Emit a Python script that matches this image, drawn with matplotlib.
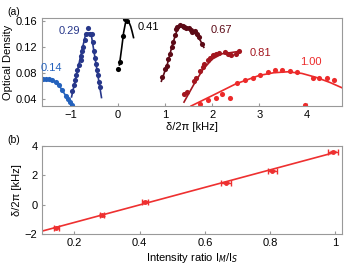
import numpy as np
import matplotlib
matplotlib.use("Agg")
import matplotlib.pyplot as plt

plt.rcParams.update({"font.family": ["Liberation Sans", "DejaVu Sans"], "font.size": 8})

# ── (a) spectra: measured points and fitted curves ──────────────────────────
labels = ["0.14", "0.29", "0.41", "0.67", "0.81", "1.00"]
colors = ["#2462bd", "#27378a", "#000000", "#5c0a16", "#a3161f", "#ec2a2a"]

x014 = [-1.60, -1.53, -1.46, -1.39, -1.32, -1.25, -1.18, -1.11, -1.06, -1.02, -0.98]
y014 = [0.0708, 0.0712, 0.0708, 0.0692, 0.0666, 0.0615, 0.0538, 0.046, 0.041, 0.036, 0.031]
fx014 = x014
fy014 = y014

x029 = [-0.977, -0.934, -0.92, -0.886, -0.864, -0.837, -0.794, -0.78, -0.758, -0.744, -0.71,
        -0.674, -0.646, -0.604, -0.553, -0.532, -0.519, -0.498, -0.477, -0.447, -0.426, -0.405, -0.377]
y029 = [0.0528, 0.0616, 0.0703, 0.0769, 0.0846, 0.0923, 0.101, 0.106, 0.114, 0.120, 0.132,
        0.140, 0.150, 0.141, 0.141, 0.128, 0.115, 0.103, 0.095, 0.085, 0.077, 0.067, 0.059]
fx029 = [-0.985, -0.70, -0.66, -0.60, -0.56, -0.35]
fy029 = [0.044, 0.136, 0.142, 0.142, 0.136, 0.043]

x041 = [-0.01, 0.04, 0.11, 0.155, 0.20]
y041 = [0.087, 0.097, 0.137, 0.163, 0.160]
fx041 = [0.03, 0.08, 0.12, 0.16, 0.19, 0.23, 0.27, 0.30, 0.33]
fy041 = [0.093, 0.12, 0.143, 0.158, 0.161, 0.159, 0.152, 0.144, 0.135]

x067 = [0.94, 1.0, 1.03, 1.07, 1.11, 1.14, 1.17, 1.21, 1.23, 1.26, 1.31, 1.37, 1.40, 1.44,
        1.51, 1.54, 1.58, 1.64, 1.68, 1.72, 1.78]
y067 = [0.0744, 0.087, 0.092, 0.1026, 0.110, 0.120, 0.128, 0.1385, 0.148, 0.151, 0.155, 0.153,
        0.151, 0.149, 0.150, 0.146, 0.1435, 0.1445, 0.141, 0.136, 0.1257]
fx067 = [0.92, 1.05, 1.15, 1.25, 1.35, 1.45, 1.55, 1.65, 1.75, 1.82]
fy067 = [0.068, 0.095, 0.123, 0.146, 0.154, 0.152, 0.147, 0.140, 0.130, 0.120]

x081 = [1.41, 1.46, 1.61, 1.66, 1.73, 1.80, 1.83, 1.90, 1.96, 2.01, 2.08, 2.15, 2.26, 2.33,
        2.40, 2.50, 2.57]
y081 = [0.049, 0.051, 0.069, 0.073, 0.0836, 0.0897, 0.095, 0.100, 0.104, 0.1077, 0.110, 0.111,
        0.113, 0.110, 0.1077, 0.110, 0.114]
fx081 = [1.40, 1.6, 1.8, 2.0, 2.2, 2.4, 2.58]
fy081 = [0.036, 0.062, 0.086, 0.102, 0.110, 0.112, 0.114]

x100 = [1.73, 1.90, 2.07, 2.21, 2.38, 2.53, 2.69, 2.86, 3.02, 3.19, 3.33, 3.48, 3.64, 3.80,
        3.97, 4.13, 4.27, 4.43, 4.59]
y100 = [0.0334, 0.0385, 0.0426, 0.0477, 0.0426, 0.065, 0.0703, 0.0734, 0.0769, 0.082, 0.0857,
        0.0857, 0.0835, 0.082, 0.0308, 0.0734, 0.0734, 0.0734, 0.0703]
fx100 = [1.55, 2.0, 2.5, 3.0, 3.3, 3.6, 3.9, 4.2, 4.5, 4.75]
fy100 = [0.030, 0.046, 0.064, 0.077, 0.081, 0.0825, 0.080, 0.074, 0.066, 0.058]

label_x = [-1.41, -1.03, 0.64, 2.2, 3.02, 4.08]
label_y = [0.089, 0.145, 0.151, 0.146, 0.111, 0.097]

# ── (b) resonance shift vs intensity ratio ─────────────────────────────────
ratio = [0.145, 0.285, 0.417, 0.666, 0.807, 0.992]
shift = [-1.57, -0.70, 0.20, 1.50, 2.32, 3.61]
ratio_err = [0.007, 0.007, 0.01, 0.015, 0.015, 0.015]
shift_err = [0.05, 0.05, 0.05, 0.05, 0.05, 0.05]

GRAY = "#999999"
fig = plt.figure(figsize=(3.44, 2.75), dpi=100)
ax1 = fig.add_axes([0.121, 0.6145, 0.873, 0.32])
ax2 = fig.add_axes([0.121, 0.149, 0.873, 0.32])

pts = [(x014, y014, fx014, fy014), (x029, y029, fx029, fy029), (x041, y041, fx041, fy041),
       (x067, y067, fx067, fy067), (x081, y081, fx081, fy081), (x100, y100, fx100, fy100)]
for (xs, ys, fx, fy), c, lab, lx, ly in zip(pts, colors, labels, label_x, label_y):
    ax1.plot(fx, fy, color=c, lw=1.2, clip_on=True)
    ax1.plot(xs, ys, "o", color=c, ms=3.7, mew=0)
    ax1.text(lx, ly, lab, color=c, fontsize=8, ha="center", va="center")

ax1.set_xlim(-1.62, 4.75)
ax1.set_ylim(0.03, 0.165)
ax1.set_xticks([-1, 0, 1, 2, 3, 4])
ax1.set_yticks([0.04, 0.08, 0.12, 0.16])
ax1.set_yticklabels(["0.04", "0.08", "0.12", "0.16"])
ax1.set_xlabel("δ/2π [kHz]", labelpad=1)
ax1.set_ylabel("Optical Density", labelpad=2)

coef = np.polyfit(ratio, shift, 1)
xl = np.array([0.1, 1.0])
ax2.plot(xl, np.polyval(coef, xl), color="#ee3030", lw=1.2)
ax2.errorbar(ratio, shift, xerr=ratio_err, yerr=shift_err, fmt="o", color="#ee3030",
             ms=2.5, elinewidth=1, capsize=2, capthick=1)
ax2.set_xlim(0.1, 1.02)
ax2.set_ylim(-2, 4)
ax2.set_xticks([0.2, 0.4, 0.6, 0.8, 1.0])
ax2.set_xticklabels(["0.2", "0.4", "0.6", "0.8", "1"])
ax2.set_yticks([-2, 0, 2, 4])
ax2.set_xlabel("Intensity ratio I$_{M}$/I$_{S}$", labelpad=2)
ax2.set_ylabel("δ/2π [kHz]", labelpad=2)

for ax in (ax1, ax2):
    for s in ax.spines.values():
        s.set_color(GRAY)
        s.set_linewidth(0.8)
    ax.tick_params(direction="in", length=2.5, color=GRAY, labelsize=8, pad=3)

fig.text(0.02, 0.975, "(a)", fontsize=7.5, va="top")
fig.text(0.02, 0.51, "(b)", fontsize=7.5, va="top")

fig.savefig("out.png", dpi=100)
